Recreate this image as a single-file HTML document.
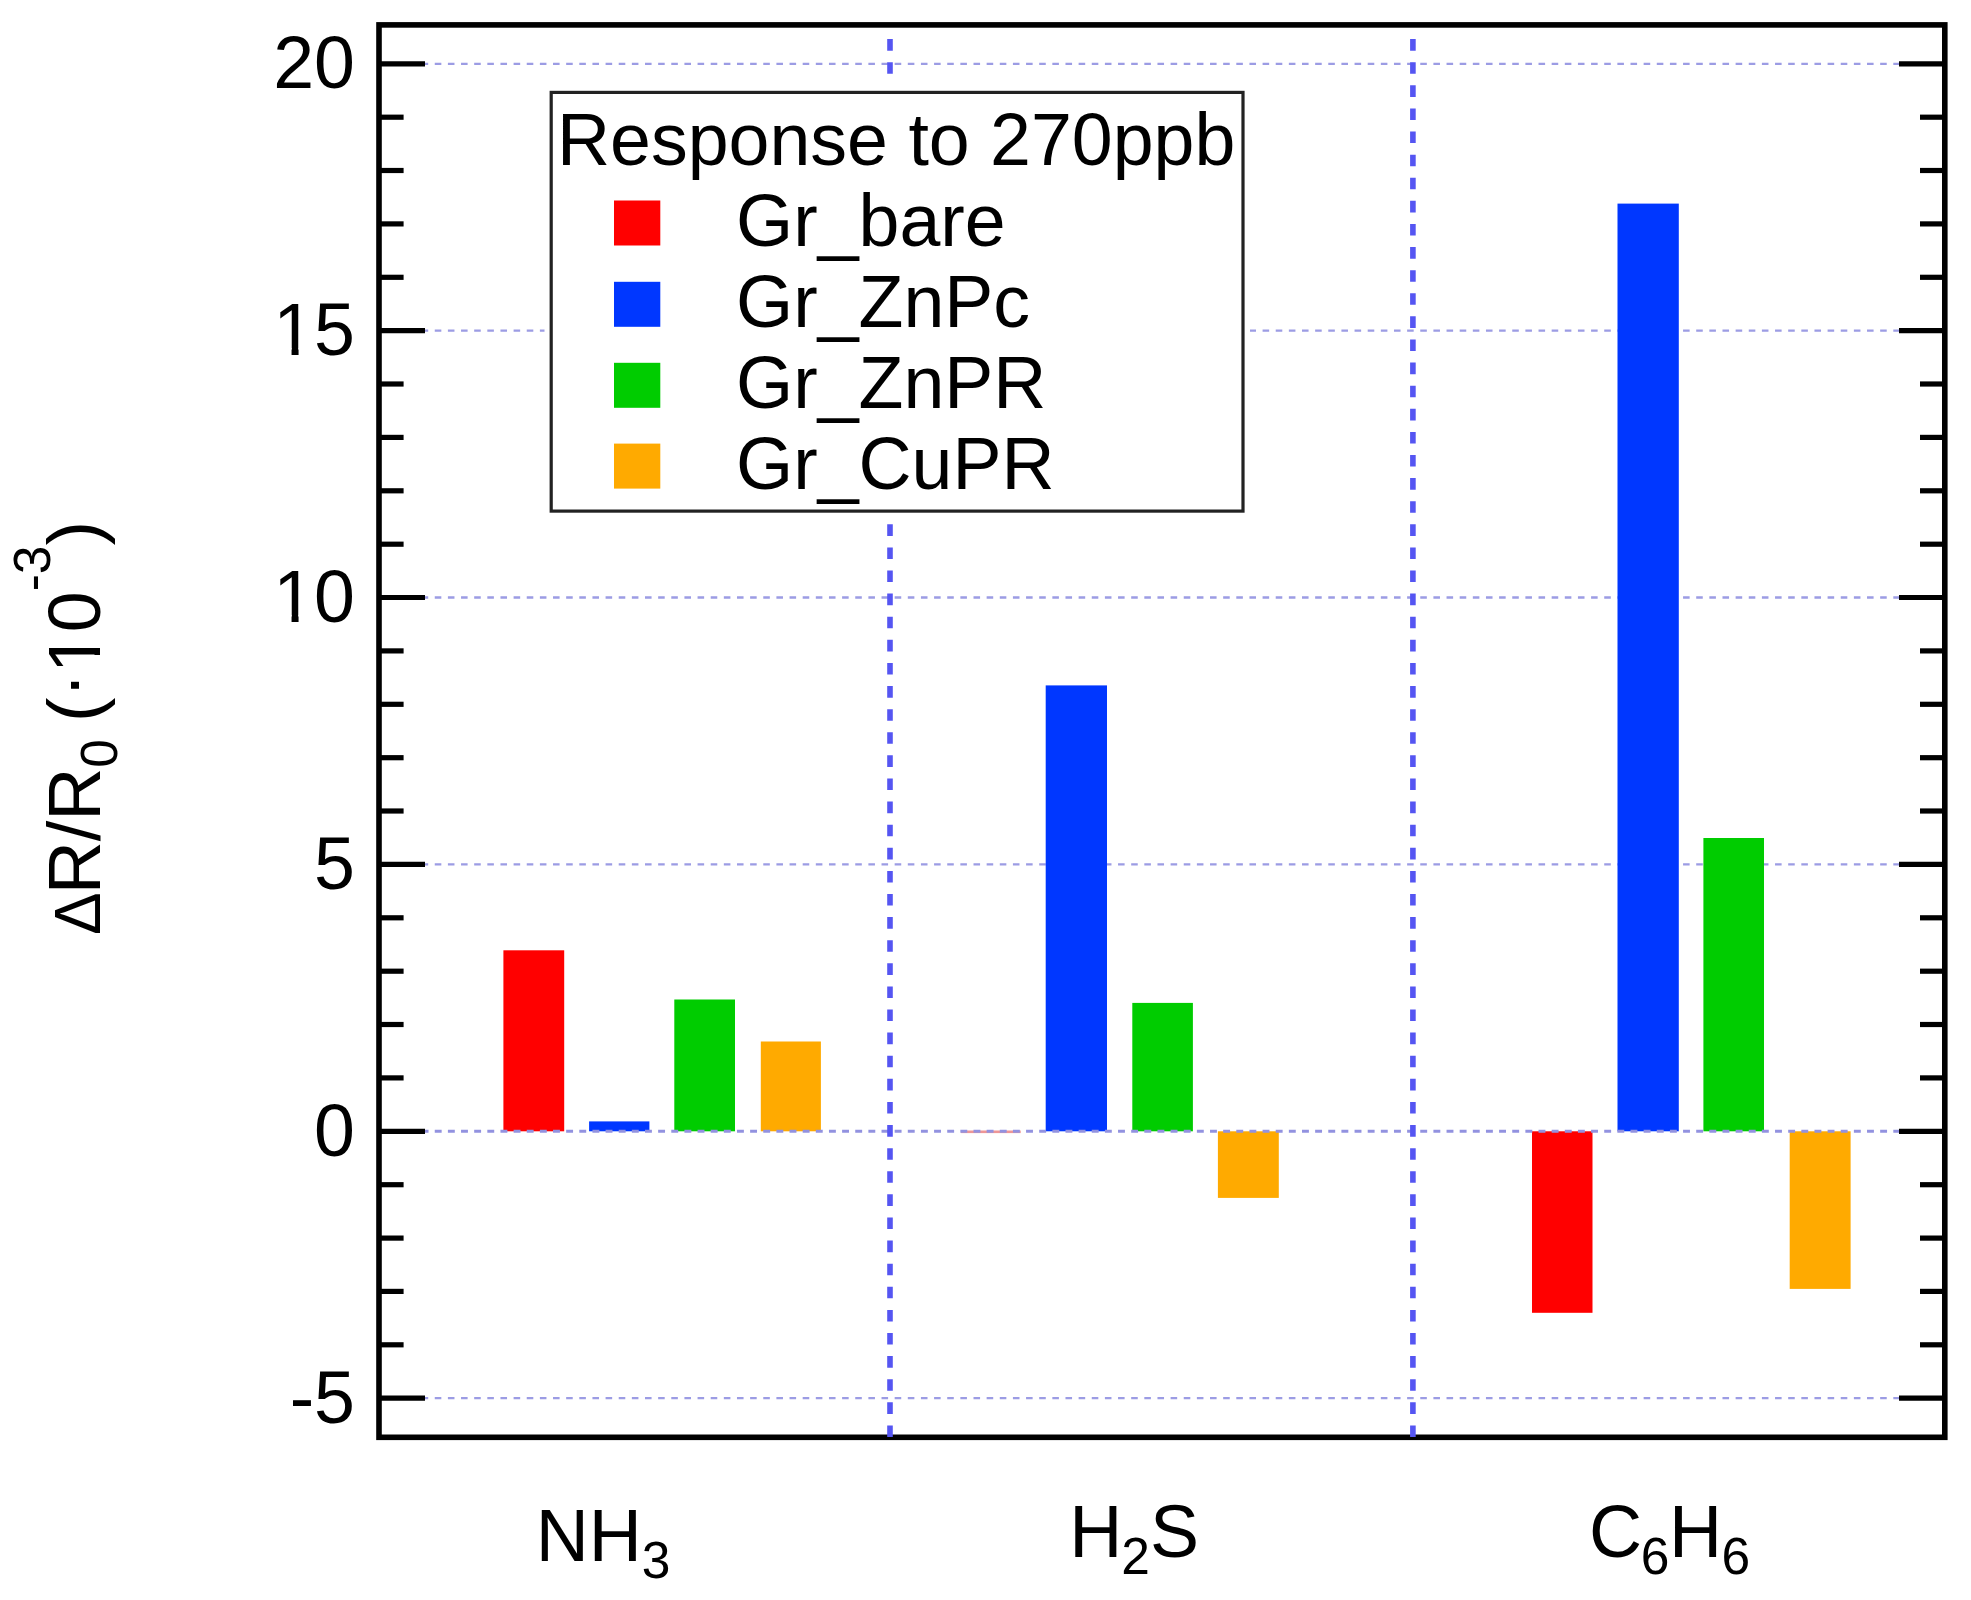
<!DOCTYPE html>
<html lang="en"><head><meta charset="utf-8"><title>Response to 270ppb</title>
<style>html,body{margin:0;padding:0;background:#fff}body{width:1971px;height:1600px;overflow:hidden}svg{display:block}text{font-family:"Liberation Sans",sans-serif;fill:#000}</style>
</head><body>
<svg width="1971" height="1600" viewBox="0 0 1971 1600">
<rect x="0" y="0" width="1971" height="1600" fill="#fff"/>
<g stroke="#9c9ce4" stroke-width="2.3" stroke-dasharray="6.57 6.57" fill="none">
<line x1="382.2" y1="63.8" x2="1942" y2="63.8"/>
<line x1="382.2" y1="330.7" x2="1942" y2="330.7"/>
<line x1="382.2" y1="597.5" x2="1942" y2="597.5"/>
<line x1="382.2" y1="864.4" x2="1942" y2="864.4"/>
<line x1="382.2" y1="1398.2" x2="1942" y2="1398.2"/>
</g>
<g>
<rect x="503.4" y="950.3" width="60.8" height="181.0" fill="#ff0000"/>
<rect x="589.1" y="1121.4" width="60.3" height="9.9" fill="#0037ff"/>
<rect x="674.3" y="999.5" width="60.7" height="131.8" fill="#00cc00"/>
<rect x="760.8" y="1041.5" width="60.1" height="89.8" fill="#ffaa00"/>
<rect x="960.9" y="1130.5" width="59.8" height="2.6" fill="#ee9696"/>
<rect x="1045.7" y="685.4" width="61.3" height="445.9" fill="#0037ff"/>
<rect x="1132.3" y="1002.9" width="60.6" height="128.4" fill="#00cc00"/>
<rect x="1217.9" y="1131.3" width="60.9" height="66.6" fill="#ffaa00"/>
<rect x="1532.0" y="1131.3" width="60.5" height="181.5" fill="#ff0000"/>
<rect x="1617.5" y="203.6" width="61.3" height="927.7" fill="#0037ff"/>
<rect x="1703.4" y="838.0" width="60.6" height="293.3" fill="#00cc00"/>
<rect x="1789.7" y="1131.3" width="60.9" height="157.6" fill="#ffaa00"/>
</g>
<line x1="382.2" y1="1131.3" x2="1942" y2="1131.3" stroke="#9292e0" stroke-width="3.1" stroke-dasharray="6.9 6.24"/>
<rect x="379" y="24.9" width="1565.8" height="1412.4" fill="none" stroke="#000" stroke-width="5.6"/>
<g stroke="#000" stroke-width="5.2">
<line x1="379" y1="1398.2" x2="425" y2="1398.2"/><line x1="1899" y1="1398.2" x2="1945" y2="1398.2"/>
<line x1="379" y1="1344.8" x2="403.6" y2="1344.8"/><line x1="1920" y1="1344.8" x2="1945" y2="1344.8"/>
<line x1="379" y1="1291.4" x2="403.6" y2="1291.4"/><line x1="1920" y1="1291.4" x2="1945" y2="1291.4"/>
<line x1="379" y1="1238.1" x2="403.6" y2="1238.1"/><line x1="1920" y1="1238.1" x2="1945" y2="1238.1"/>
<line x1="379" y1="1184.7" x2="403.6" y2="1184.7"/><line x1="1920" y1="1184.7" x2="1945" y2="1184.7"/>
<line x1="379" y1="1131.3" x2="425" y2="1131.3"/><line x1="1899" y1="1131.3" x2="1945" y2="1131.3"/>
<line x1="379" y1="1077.9" x2="403.6" y2="1077.9"/><line x1="1920" y1="1077.9" x2="1945" y2="1077.9"/>
<line x1="379" y1="1024.5" x2="403.6" y2="1024.5"/><line x1="1920" y1="1024.5" x2="1945" y2="1024.5"/>
<line x1="379" y1="971.2" x2="403.6" y2="971.2"/><line x1="1920" y1="971.2" x2="1945" y2="971.2"/>
<line x1="379" y1="917.8" x2="403.6" y2="917.8"/><line x1="1920" y1="917.8" x2="1945" y2="917.8"/>
<line x1="379" y1="864.4" x2="425" y2="864.4"/><line x1="1899" y1="864.4" x2="1945" y2="864.4"/>
<line x1="379" y1="811.0" x2="403.6" y2="811.0"/><line x1="1920" y1="811.0" x2="1945" y2="811.0"/>
<line x1="379" y1="757.7" x2="403.6" y2="757.7"/><line x1="1920" y1="757.7" x2="1945" y2="757.7"/>
<line x1="379" y1="704.3" x2="403.6" y2="704.3"/><line x1="1920" y1="704.3" x2="1945" y2="704.3"/>
<line x1="379" y1="650.9" x2="403.6" y2="650.9"/><line x1="1920" y1="650.9" x2="1945" y2="650.9"/>
<line x1="379" y1="597.5" x2="425" y2="597.5"/><line x1="1899" y1="597.5" x2="1945" y2="597.5"/>
<line x1="379" y1="544.2" x2="403.6" y2="544.2"/><line x1="1920" y1="544.2" x2="1945" y2="544.2"/>
<line x1="379" y1="490.8" x2="403.6" y2="490.8"/><line x1="1920" y1="490.8" x2="1945" y2="490.8"/>
<line x1="379" y1="437.4" x2="403.6" y2="437.4"/><line x1="1920" y1="437.4" x2="1945" y2="437.4"/>
<line x1="379" y1="384.0" x2="403.6" y2="384.0"/><line x1="1920" y1="384.0" x2="1945" y2="384.0"/>
<line x1="379" y1="330.7" x2="425" y2="330.7"/><line x1="1899" y1="330.7" x2="1945" y2="330.7"/>
<line x1="379" y1="277.3" x2="403.6" y2="277.3"/><line x1="1920" y1="277.3" x2="1945" y2="277.3"/>
<line x1="379" y1="223.9" x2="403.6" y2="223.9"/><line x1="1920" y1="223.9" x2="1945" y2="223.9"/>
<line x1="379" y1="170.5" x2="403.6" y2="170.5"/><line x1="1920" y1="170.5" x2="1945" y2="170.5"/>
<line x1="379" y1="117.2" x2="403.6" y2="117.2"/><line x1="1920" y1="117.2" x2="1945" y2="117.2"/>
<line x1="379" y1="63.8" x2="425" y2="63.8"/><line x1="1899" y1="63.8" x2="1945" y2="63.8"/>
</g>
<g stroke="#5555f2" stroke-width="5.6" stroke-dasharray="11.6 11.505" fill="none">
<line x1="890" y1="1437" x2="890" y2="28"/>
<line x1="1412.9" y1="1437" x2="1412.9" y2="28"/>
</g>
<rect x="544.5" y="83" width="705.5" height="434" fill="#fff"/>
<rect x="551.2" y="92.4" width="691.8" height="418.7" fill="#fff" stroke="#222" stroke-width="3.2"/>
<text x="557" y="164.9" font-size="73.5">Response to 270ppb</text>
<rect x="614" y="200.5" width="46.3" height="45" fill="#ff0000"/>
<text x="736" y="245.8" font-size="73.5">Gr_bare</text>
<rect x="614" y="281.8" width="46.3" height="45" fill="#0037ff"/>
<text x="736" y="327.1" font-size="73.5">Gr_ZnPc</text>
<rect x="614" y="362.8" width="46.3" height="45" fill="#00cc00"/>
<text x="736" y="408.1" font-size="73.5">Gr_ZnPR</text>
<rect x="614" y="443.6" width="46.3" height="45" fill="#ffaa00"/>
<text x="736" y="488.9" font-size="73.5">Gr_CuPR</text>
<text x="355" y="88.4" font-size="73.5" text-anchor="end">20</text>
<text x="355" y="355.3" font-size="73.5" text-anchor="end">15</text>
<text x="355" y="622.1" font-size="73.5" text-anchor="end">10</text>
<text x="355" y="889.0" font-size="73.5" text-anchor="end">5</text>
<text x="355" y="1155.9" font-size="73.5" text-anchor="end">0</text>
<text x="355" y="1422.8" font-size="73.5" text-anchor="end">-5</text>
<text x="535.7" y="1560.6" font-size="73.5">NH<tspan font-size="51.5" dy="17">3</tspan></text>
<text x="1069.2" y="1556.5" font-size="73.5">H<tspan font-size="51.5" x="1121.2" dy="17">2</tspan><tspan x="1149.9" dy="-17">S</tspan></text>
<text x="1589" y="1556.5" font-size="73.5">C<tspan font-size="51.5" x="1640.7" dy="17">6</tspan><tspan x="1669" dy="-17">H</tspan><tspan font-size="51.5" x="1721.6" dy="17">6</tspan></text>
<g transform="translate(100.4,935) rotate(-90)">
<text x="0" y="0" font-size="64">Δ</text>
<text x="40.7" y="0" font-size="73.5">R/R<tspan font-size="51.5" dy="17">0</tspan><tspan x="192.5" dy="-17"> (</tspan><tspan dy="-5">·</tspan><tspan dy="5">10</tspan><tspan font-size="51.5" dy="-50">-3</tspan><tspan dy="50">)</tspan></text>
</g>
<g fill="#fff">
<rect x="277.76" y="348.1" width="13.8" height="8"/><rect x="298.56" y="348.1" width="13.5" height="8"/>
<rect x="277.76" y="614.9" width="13.8" height="8"/><rect x="298.56" y="614.9" width="13.5" height="8"/>
<rect x="93" y="634.5" width="8.5" height="13.5"/><rect x="93" y="655" width="8.5" height="13.5"/>
</g>
</svg>
</body></html>
